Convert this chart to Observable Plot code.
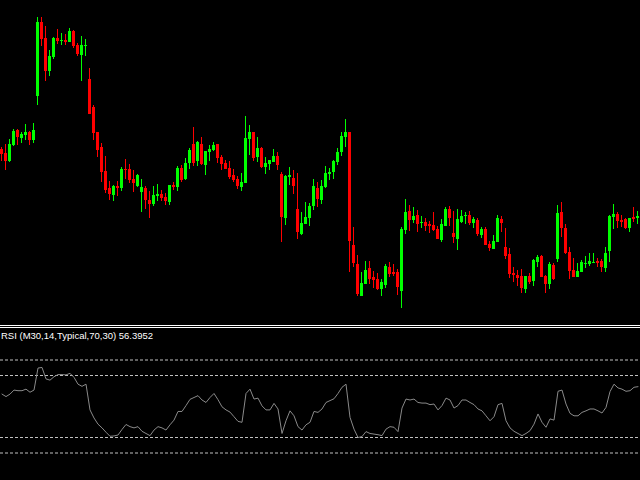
<!DOCTYPE html>
<html>
<head>
<meta charset="utf-8">
<script src="https://cdn.jsdelivr.net/npm/d3@7"></script>
<script src="https://cdn.jsdelivr.net/npm/@observablehq/plot@0.6"></script>
<style>
html,body{margin:0;padding:0;background:#000;width:640px;height:480px;overflow:hidden}
#wrap{position:relative;width:640px;height:480px;background:#000}
#main{position:absolute;left:0;top:0}
.sep{position:absolute;left:0;width:640px;height:1px;background:#fff}
#rsi{position:absolute;left:0;top:329px}
#label{position:absolute;left:1px;top:331px;font-family:"Liberation Sans",Arial,sans-serif;font-size:9.5px;line-height:10px;color:#fff;white-space:nowrap}
</style>
</head>
<body>
<div id="wrap">
  <div id="main"></div>
  <div class="sep" style="top:325px"></div>
  <div class="sep" style="top:327px"></div>
  <div id="rsi"></div>
  <div id="label"></div>
</div>
<script>
// Price bars (arbitrary point units), one per 30-minute candle
const open = [
  181,177,169,185,200,192,195,198,190,234,
  308,292,259,273,292,289,290,288,299,285,
  275,284,251,223,198,183,159,142,135,144,
  142,161,161,151,144,138,142,130,126,134,
  136,133,128,145,143,162,151,167,186,169,
  186,165,178,180,186,173,167,162,155,151,
  143,147,191,198,173,182,163,166,168,174,
  156,112,153,152,121,96,106,112,124,142,
  130,143,156,158,168,178,193,198,85,66,
  34,46,62,53,51,41,45,63,58,58,
  39,100,119,110,115,107,108,106,105,101,
  90,104,121,97,91,108,114,115,107,110,
  95,101,86,81,88,111,83,76,57,55,
  54,41,54,49,68,74,54,46,65,71,
  118,102,78,60,53,58,66,66,67,69,
  69,62,79,113,116,110,111,102,113,112
];
const high = [
  183,186,191,201,201,198,206,199,207,313,
  313,304,280,293,301,297,296,302,300,287,
  294,291,262,225,198,187,174,149,145,149,
  163,171,166,160,156,151,144,139,144,146,
  140,137,145,148,164,165,172,182,203,189,
  193,179,185,188,186,175,170,169,161,154,
  157,214,205,198,193,183,173,170,181,178,
  158,155,163,160,157,118,128,127,151,148,
  150,164,162,170,182,198,211,198,103,75,
  58,69,69,59,57,51,66,68,66,61,
  103,131,125,123,120,114,112,109,118,104,
  111,123,124,119,121,120,118,119,113,112,
  103,103,89,95,115,114,102,82,63,60,
  61,54,57,71,75,75,55,68,67,125,
  128,106,83,72,67,70,74,77,77,72,
  71,83,115,126,118,115,112,112,123,119
];
const low = [
  169,160,168,184,185,187,190,185,187,225,
  284,249,254,271,286,285,285,288,282,274,
  249,274,216,190,173,148,137,130,129,134,
  139,151,147,138,143,118,121,112,124,129,
  129,125,125,140,139,148,150,161,164,164,
  165,155,169,179,167,160,161,151,148,141,
  139,147,175,169,168,162,156,160,168,160,
  88,105,145,136,91,95,106,104,120,123,
  126,142,150,151,165,174,183,58,63,34,
  34,46,46,42,40,34,42,53,54,35,
  22,96,99,107,98,102,99,97,99,91,
  88,104,104,87,80,107,106,105,102,94,
  92,85,79,81,88,98,71,52,48,44,
  37,37,46,44,63,53,37,41,50,68,
  93,76,51,53,53,58,62,64,67,63,
  58,58,68,101,102,103,101,98,108,106
];
const close = [
  176,169,186,199,193,196,198,190,200,308,
  291,259,274,292,289,290,288,299,284,276,
  285,285,216,197,180,158,140,136,144,142,
  161,160,150,147,155,143,130,126,135,136,
  132,129,145,143,162,150,167,180,167,188,
  166,179,181,185,172,166,161,153,150,144,
  148,192,198,172,182,163,167,170,174,165,
  113,154,155,144,98,107,113,124,144,131,
  144,157,158,169,178,194,198,89,67,36,
  47,60,51,50,41,48,64,56,56,43,
  101,118,110,114,106,108,104,104,100,91,
  106,121,112,93,111,114,115,107,111,96,
  101,85,82,89,112,107,74,56,55,52,
  42,54,48,70,73,53,46,66,51,117,
  102,77,59,53,59,68,67,69,68,67,
  63,77,114,116,109,108,102,112,111,114
];
// RSI values
const rsi = [
  54.0,53.2,54.0,55.3,55.1,55.1,55.6,54.6,55.3,62.4,
  62.6,58.9,58.5,59.6,60.3,60.3,60.2,60.7,59.4,57.2,
  56.5,57.2,48.9,46.3,44.3,43.1,41.7,40.4,40.5,40.8,
  42.6,44.2,43.5,43.1,43.5,42.0,41.3,40.6,42.4,43.5,
  43.1,42.4,44.1,45.6,48.4,48.4,50.3,52.3,52.9,53.5,
  52.1,51.3,52.9,54.2,52.2,49.9,48.9,48.2,46.7,45.2,
  44.9,54.2,55.6,52.4,52.7,50.2,48.9,48.9,51.0,49.2,
  41.3,45.4,48.6,47.0,43.5,42.4,44.1,44.9,48.4,48.1,
  49.2,51.3,51.9,52.5,54.2,56.2,57.2,46.5,42.7,40.0,
  40.3,41.9,41.3,41.1,40.9,40.6,42.7,43.5,43.3,41.9,
  49.5,52.4,52.1,52.4,51.3,51.1,51.1,50.6,50.8,48.9,
  50.3,52.7,52.1,49.5,50.3,52.1,52.1,51.3,50.6,49.2,
  48.6,47.0,45.4,46.7,50.6,51.0,45.4,43.1,42.0,41.3,
  40.6,41.3,42.2,44.3,47.6,44.9,43.3,46.0,45.6,54.9,
  55.3,50.8,47.8,47.0,47.0,48.1,48.6,49.2,49.2,48.6,
  47.9,49.7,54.8,57.2,56.0,55.6,54.9,55.1,56.2,56.3952
];
const rsiLevels = [65, 60, 40, 35];
const rsiLabel = "RSI (M30,14,Typical,70,30) 56.3952";

const bull = "#00ff00", bear = "#ff0000";
const n = open.length;
const candles = d3.range(n).map(i => ({
  i, open: open[i], high: high[i], low: low[i], close: close[i]
}));
const col = d => d.close >= d.open ? bull : bear;

const main = Plot.plot({
  width: 640, height: 324, margin: 0,
  style: {background: "#000"},
  x: {domain: [-0.375, n - 0.375], axis: null},
  y: {domain: [6, 330], axis: null},
  color: {type: "identity"},
  marks: [
    Plot.ruleX(candles, {x: "i", y1: "low", y2: "high", stroke: col, strokeWidth: 1, dx: -0.5}),
    Plot.rect(candles, {
      x1: d => d.i - 0.375, x2: d => d.i + 0.375,
      y1: d => Math.min(d.open, d.close), y2: d => Math.max(d.open, d.close),
      fill: col, inset: 0
    })
  ]
});
document.getElementById("main").appendChild(main);

const rsiData = rsi.map((v, i) => ({i, v}));
const rsiPlot = Plot.plot({
  width: 640, height: 151, margin: 0,
  style: {background: "transparent"},
  x: {domain: [-0.375, n - 0.375], axis: null},
  y: {domain: [26.129, 74.839], axis: null},
  marks: [
    Plot.ruleY(rsiLevels, {stroke: "#c0c0c0", strokeDasharray: "3,2", strokeWidth: 1}),
    Plot.line(rsiData, {x: "i", y: "v", stroke: "#8a8a8a", strokeWidth: 1})
  ]
});
document.getElementById("rsi").appendChild(rsiPlot);
document.getElementById("label").textContent = rsiLabel;
</script>
</body>
</html>
